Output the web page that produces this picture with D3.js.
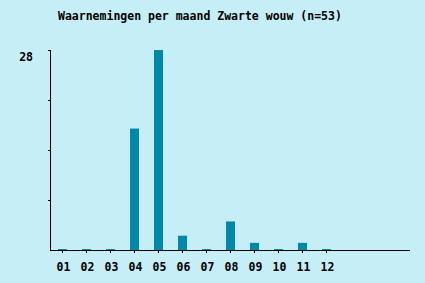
<!DOCTYPE html>
<html>
<head>
<meta charset="utf-8">
<script src="https://cdn.jsdelivr.net/npm/d3@7"></script>
<style>
    body { margin: 0; background: #c6eef7; }
    text { font-family: "DejaVu Sans Mono", "Liberation Mono", monospace; font-weight: bold; fill: #000; }
</style>
</head>
<body>
<div id="chart"></div>
<script>
// months and counts of observations
const months = ["01", "02", "03", "04", "05", "06", "07", "08", "09", "10", "11", "12"]
const counts = [0, 0, 0, 17, 28, 2, 0, 4, 1, 0, 1, 0]
const slots = d3.range(1, 16) // axis has room for 15 slots, only 12 used
const title = "Waarnemingen per maand Zwarte wouw (n=53)"

const width = 425, height = 283
const mLeft = 50, mRight = 410, mTop = 50, mBottom = 250

const svg = d3.select("#chart")
    .append("svg")
    .attr("width", width)
    .attr("height", height)

svg.append("rect")
    .attr("width", width)
    .attr("height", height)
    .attr("fill", "#c6eef7")

svg.append("text")
    .attr("x", 58)
    .attr("y", 20)
    .style("font-size", "11.5px")
    .text(title)

const x = d3.scaleBand()
    .domain(slots)
    .range([mLeft, mRight])

const y = d3.scaleLinear()
    .domain([0, d3.max(counts)])
    .range([mBottom, mTop])

const barW = 9

// bars (zero values still show a 1px stub)
svg.append("g")
    .selectAll("rect")
    .data(counts)
    .enter()
    .append("rect")
    .attr("x", (d, i) => Math.round(x(i + 1) + x.bandwidth() / 2 - barW / 2))
    .attr("width", barW)
    .attr("y", d => Math.min(y(d), mBottom - 1))
    .attr("height", d => Math.max(mBottom - y(d), 1))
    .attr("fill", "#0088a8")

// y axis line + ticks
svg.append("line")
    .attr("x1", mLeft + 0.5).attr("x2", mLeft + 0.5)
    .attr("y1", mTop).attr("y2", mBottom + 1)
    .attr("stroke", "#000")

const yTicks = [7, 14, 21, 28]
svg.append("g")
    .selectAll("line")
    .data(yTicks)
    .enter()
    .append("line")
    .attr("x1", mLeft - 2).attr("x2", mLeft + 1)
    .attr("y1", d => Math.round(y(d)) + 0.5)
    .attr("y2", d => Math.round(y(d)) + 0.5)
    .attr("stroke", "#000")

svg.append("text")
    .attr("x", 33)
    .attr("y", 61)
    .attr("text-anchor", "end")
    .style("font-size", "11.5px")
    .text(d3.max(counts))

// x axis line + ticks
svg.append("line")
    .attr("x1", mLeft).attr("x2", mRight)
    .attr("y1", mBottom + 0.5).attr("y2", mBottom + 0.5)
    .attr("stroke", "#000")

svg.append("g")
    .selectAll("line")
    .data(months)
    .enter()
    .append("line")
    .attr("x1", (d, i) => Math.round(x(i + 1) + x.bandwidth() / 2) + 0.5)
    .attr("x2", (d, i) => Math.round(x(i + 1) + x.bandwidth() / 2) + 0.5)
    .attr("y1", mBottom).attr("y2", mBottom + 3)
    .attr("stroke", "#000")

svg.append("g")
    .selectAll("text")
    .data(months)
    .enter()
    .append("text")
    .attr("x", (d, i) => x(i + 1) + x.bandwidth() / 2 + 1.5)
    .attr("y", 271)
    .attr("text-anchor", "middle")
    .style("font-size", "11.5px")
    .text(d => d)
</script>
</body>
</html>
